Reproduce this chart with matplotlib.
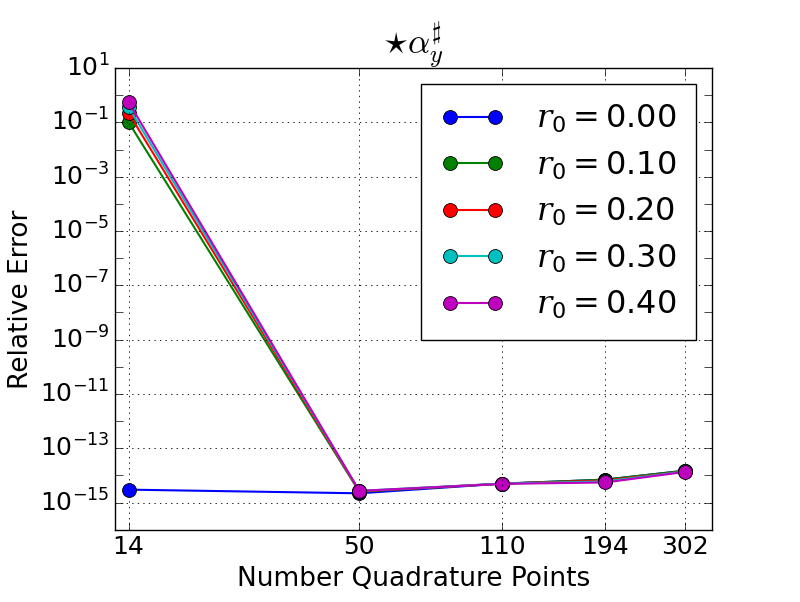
import numpy as np
import matplotlib
matplotlib.use("Agg")
import matplotlib.pyplot as plt
from matplotlib.ticker import FixedLocator, NullLocator, FixedFormatter, NullFormatter

plt.style.use('classic')
plt.rcParams['mathtext.fontset'] = 'custom'
plt.rcParams['mathtext.rm'] = 'DejaVu Sans'
plt.rcParams['mathtext.it'] = 'DejaVu Serif:italic'
plt.rcParams['font.family'] = ['DejaVu Sans']

# quadrature sizes and relative errors per r0
npts = [14, 50, 110, 194, 302]
r0_labels = ['0.00', '0.10', '0.20', '0.30', '0.40']
err_000 = [3.0e-15, 2.2e-15, 5.0e-15, 7.0e-15, 1.5e-14]
err_010 = [1.0e-1, 2.5e-15, 5.0e-15, 7.0e-15, 1.5e-14]
err_020 = [2.2e-1, 2.6e-15, 5.0e-15, 6.5e-15, 1.4e-14]
err_030 = [3.6e-1, 2.7e-15, 5.0e-15, 6.0e-15, 1.4e-14]
err_040 = [5.5e-1, 2.7e-15, 4.9e-15, 5.5e-15, 1.35e-14]
errs = [err_000, err_010, err_020, err_030, err_040]
colors = ['b', 'g', 'r', 'c', 'm']

fig = plt.figure(figsize=(8, 6.02), dpi=100, facecolor='white')
ax = fig.add_axes([0.144, 0.12, 0.746, 0.767])
ax.set_facecolor('white')

for e, c, lab in zip(errs, colors, r0_labels):
    ax.plot(npts, e, '-o', color=c, mfc=c, mec='k', mew=0.6, ms=10, lw=1.5,
            label=r'$r_0 = $' + lab)

ax.set_xscale('log')
ax.set_yscale('log')
ax.set_xlim(13, 350)
ax.set_ylim(1e-16, 1e1)

ax.xaxis.set_major_locator(FixedLocator(npts))
ax.xaxis.set_major_formatter(FixedFormatter([str(n) for n in npts]))
ax.xaxis.set_minor_locator(NullLocator())

ax.yaxis.set_major_locator(FixedLocator([10.0**k for k in range(-15, 2, 2)]))
ax.yaxis.set_minor_locator(FixedLocator([10.0**k for k in range(-16, 2, 2)]))
ax.yaxis.set_minor_formatter(NullFormatter())
ax.tick_params(axis='both', which='major', labelsize=18, length=6)
ax.tick_params(axis='both', which='minor', length=6)

ax.grid(True, which='major', color='k', linestyle=':', linewidth=0.6)

ax.set_xlabel('Number Quadrature Points', fontsize=19)
ax.set_ylabel('Relative Error', fontsize=19, labelpad=4)
ax.set_title(r'$\star\alpha_y^\sharp$', fontsize=25, math_fontfamily='cm', pad=10)

ax.legend(loc='upper right', numpoints=2, fontsize=23, handlelength=2.0,
          borderaxespad=0.5, labelspacing=0.45, handletextpad=1.0,
          borderpad=0.6, frameon=True)

fig.savefig('out.png', dpi=100, facecolor='white')
